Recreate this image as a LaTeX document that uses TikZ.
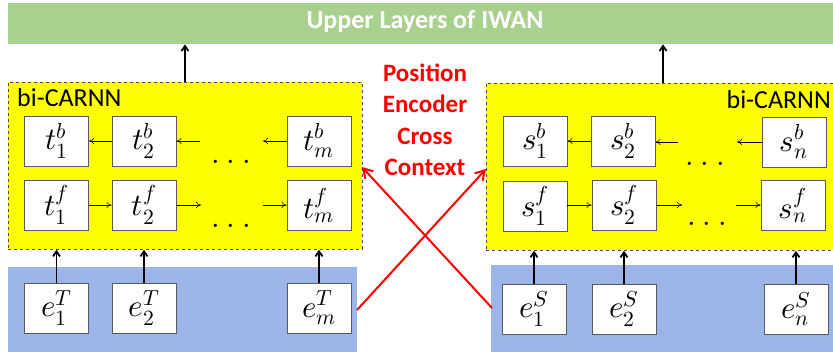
\documentclass[tikz,border=0pt]{standalone}
\usepackage{fontspec}
\usepackage{unicode-math}
\setmainfont{Carlito}
\setmathfont{Latin Modern Math}
\usetikzlibrary{arrows.meta}
\definecolor{upgreen}{RGB}{169,209,142}
\definecolor{embblue}{RGB}{155,181,232}
\definecolor{boxgray}{RGB}{90,90,90}
\definecolor{ylw}{RGB}{255,255,0}
\tikzset{
  cell/.style={draw=boxgray, line width=0.9pt, fill=white, minimum width=64pt, minimum height=50pt, inner sep=0pt, font=\fontsize{31}{34}\selectfont},
  dotsn/.style={anchor=base, inner sep=0pt, font=\fontsize{31}{34}\selectfont},
  rnnbox/.style={draw=black!70, dashed, line width=0.8pt, fill=ylw, anchor=north west, inner sep=0pt},
  embbox/.style={fill=embblue, anchor=north west, inner sep=0pt},
  thin arrow/.style={-{To[length=5pt,width=6pt]}, line width=0.6pt},
  up arrow/.style={-{Straight Barb[length=5pt,width=7pt]}, line width=1.8pt},
  red arrow/.style={red, line width=2pt, -{Straight Barb[length=9pt,width=11pt]}},
  lbl/.style={font=\fontsize{26}{30}\selectfont, inner sep=0pt}
}
\begin{document}
\begin{tikzpicture}[x=1pt,y=-1pt]
\useasboundingbox (0,0) rectangle (833,353);
% green top bar
\node[fill=upgreen, anchor=north west, inner sep=0pt, minimum width=840pt, minimum height=41pt] (G) at (8,3) {};
\node[lbl, text=white, font=\fontsize{26}{30}\selectfont\bfseries] (Gt) at (425,22) {Upper Layers of IWAN};
% yellow boxes
\node[rnnbox, minimum width=354pt, minimum height=167pt] (LY) at (8,82) {};
\node[rnnbox, minimum width=360pt, minimum height=167pt] (RY) at (486,83) {};
% blue boxes
\node[embbox, minimum width=349pt, minimum height=85pt] (LB) at (8,267) {};
\node[embbox, minimum width=350pt, minimum height=87pt] (RB) at (491,265) {};
% labels
\node[lbl, anchor=west] (Ll) at (17,98) {bi-CARNN};
\node[lbl, anchor=east] (Rl) at (831,100) {bi-CARNN};
% left cells
\node[cell] (t1b) at (56.5,141) {$t_1^b$};
\node[cell] (t2b) at (144,141) {$t_2^b$};
\node[cell] (tmb) at (319,141) {$t_m^b$};
\node[cell] (t1f) at (56.5,205) {$t_1^f$};
\node[cell] (t2f) at (144,205) {$t_2^f$};
\node[cell] (tmf) at (319,205) {$t_m^f$};
\node[cell] (e1T) at (56.5,308) {$e_1^T$};
\node[cell] (e2T) at (144,308) {$e_2^T$};
\node[cell] (emT) at (319,308) {$e_m^T$};
\node[dotsn] (ldb) at (231,163) {$.\:.\:.$};
\node[dotsn] (ldf) at (231,227) {$.\:.\:.$};
% right cells
\node[cell] (s1b) at (535,141) {$s_1^b$};
\node[cell] (s2b) at (623,141) {$s_2^b$};
\node[cell] (snb) at (794,142) {$s_n^b$};
\node[cell] (s1f) at (535,206) {$s_1^f$};
\node[cell] (s2f) at (624,205) {$s_2^f$};
\node[cell] (snf) at (793,205) {$s_n^f$};
\node[cell] (e1S) at (534,309) {$e_1^S$};
\node[cell] (e2S) at (624,309) {$e_2^S$};
\node[cell] (enS) at (796,309) {$e_n^S$};
\node[dotsn] (rdb) at (705,165) {$.\:.\:.$};
\node[dotsn] (rdf) at (707,225) {$.\:.\:.$};
% free ends of chain arrows
\coordinate (lb1) at (200,141);
\coordinate (lb2) at (263,141);
\coordinate (lf1) at (201,205);
\coordinate (lf2) at (263,205);
\coordinate (rb1) at (678,142);
\coordinate (rb2) at (737,142);
\coordinate (rf1) at (682,205);
\coordinate (rf2) at (736,205);
% chain arrows left
\draw[thin arrow] (t2b.west) -- (t1b.east);
\draw[thin arrow] (lb1) -- (t2b.east);
\draw[thin arrow] (tmb.west) -- (lb2);
\draw[thin arrow] (t1f.east) -- (t2f.west);
\draw[thin arrow] (t2f.east) -- (lf1);
\draw[thin arrow] (lf2) -- (tmf.west);
% chain arrows right
\draw[thin arrow] (s2b.west) -- (s1b.east |- s2b.west);
\draw[thin arrow] (rb1) -- (s2b.east |- rb1);
\draw[thin arrow] (snb.west) -- (rb2);
\draw[thin arrow] (s1f.east |- s2f.west) -- (s2f.west);
\draw[thin arrow] (s2f.east) -- (rf1);
\draw[thin arrow] (rf2) -- (snf.west);
% vertical arrows from embeddings
\foreach \n in {e1T,e2T,emT} \draw[up arrow] (\n.north) -- (\n.north |- LY.south);
\foreach \n in {e1S,e2S,enS} \draw[up arrow] (\n.north) -- (\n.north |- RY.south);
% top arrows
\coordinate (la) at (185,0);
\coordinate (ra) at (663,0);
\draw[up arrow] (la |- LY.north) -- (la |- G.south);
\draw[up arrow] (ra |- RY.north) -- (ra |- G.south);
% red cross arrows
\coordinate (r1s) at (357,310);
\coordinate (r1e) at (486,169);
\coordinate (r2s) at (492,308);
\coordinate (r2e) at (362,167);
\draw[red arrow] (r1s) -- (r1e);
\draw[red arrow] (r2s) -- (r2e);
\node[align=center, text=red, inner sep=0pt, font=\fontsize{25}{31.5}\selectfont\bfseries] (pe) at (425,120) {Position\\Encoder\\Cross\\Context};
\end{tikzpicture}
\end{document}
